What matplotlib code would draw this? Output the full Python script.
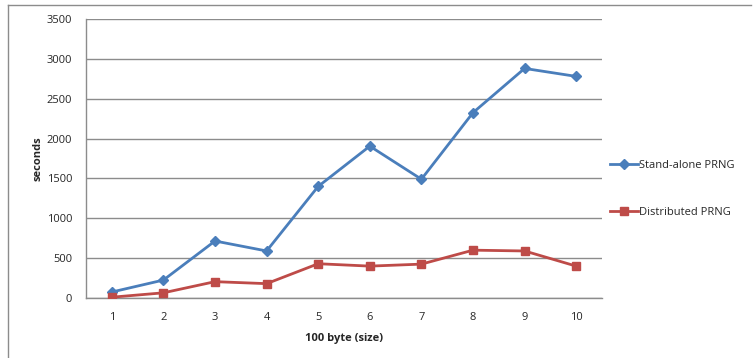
import numpy as np
import matplotlib
matplotlib.use('Agg')
import matplotlib.pyplot as plt
from matplotlib.lines import Line2D

sizes = [1, 2, 3, 4, 5, 6, 7, 8, 9, 10]
standalone = [75, 225, 715, 590, 1400, 1905, 1490, 2325, 2880, 2780]
distributed = [10, 65, 205, 180, 430, 400, 425, 600, 590, 400]
yticks = [0, 500, 1000, 1500, 2000, 2500, 3000, 3500]

blue = '#4A7EBB'
red = '#BE4B48'
grid_c = '#8C8C8C'
txt_c = '#262626'

plt.rcParams['font.family'] = ['Open Sans', 'DejaVu Sans']

fig = plt.figure(figsize=(7.56, 3.58), dpi=100)
W, H = 756, 358
ax = fig.add_axes([86 / W, 1 - 298 / H, (602 - 86) / W, (298 - 19) / H])

ax.plot(sizes, standalone, color=blue, lw=2.0, marker='D', ms=5.5,
        label='Stand-alone PRNG', zorder=3)
ax.plot(sizes, distributed, color=red, lw=2.0, marker='s', ms=6,
        label='Distributed PRNG', zorder=3)

ax.set_xlim(0.5, 10.5)
ax.set_ylim(0, 3500)
ax.set_xticks(sizes)
ax.set_yticks(yticks)
ax.yaxis.grid(True, color=grid_c, lw=1.0)
ax.set_axisbelow(True)
ax.tick_params(axis='both', length=0, labelsize=8, colors=txt_c)
ax.tick_params(axis='x', pad=10)
ax.tick_params(axis='y', pad=10)
for s in ['top', 'right']:
    ax.spines[s].set_visible(False)
for s in ['left', 'bottom']:
    ax.spines[s].set_color(grid_c)
    ax.spines[s].set_linewidth(1.0)

ax.set_xlabel('100 byte (size)', fontsize=8, fontweight='bold', color=txt_c, labelpad=7)
ax.set_ylabel('seconds', fontsize=8, fontweight='bold', color=txt_c, labelpad=2)

leg = ax.legend(loc='upper left', bbox_to_anchor=(610 / W, 1 - 160 / H),
                bbox_transform=fig.transFigure, frameon=False, fontsize=8,
                handlelength=2.5, handletextpad=0.1, labelspacing=3.2,
                borderpad=0, borderaxespad=0)
for t in leg.get_texts():
    t.set_color(txt_c)

# chart area border (top and left visible)
fig.add_artist(Line2D([8 / W, 751 / W], [1 - 5 / H, 1 - 5 / H], color='#8C8C8C', lw=1.0))
fig.add_artist(Line2D([8 / W, 8 / W], [1 - 5 / H, 0], color='#8C8C8C', lw=1.0))

fig.savefig('out.png', dpi=100)
